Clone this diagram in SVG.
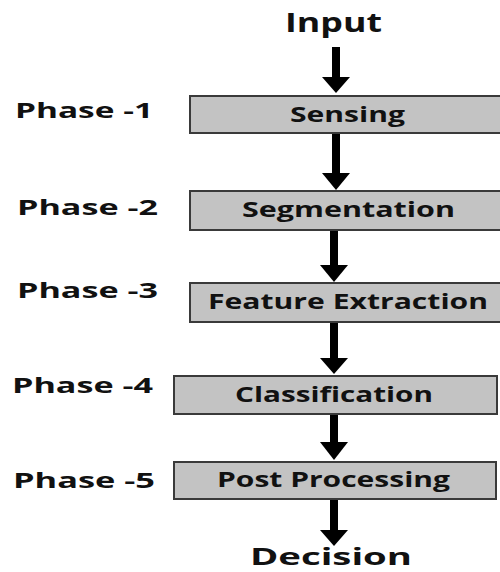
<svg xmlns="http://www.w3.org/2000/svg" width="500" height="572" viewBox="0 0 500 572">
<defs>
<style>
.box{fill:#c3c3c3;stroke:#3a3a3a;stroke-width:2}
.t{font-family:"Open Sans","Liberation Sans",sans-serif;font-weight:bold;fill:#111}
.bt{font-size:21px}
.ph{font-size:22px}
.io{font-size:26px}
.sh{stroke:#000;stroke-width:8}
.hd{fill:#000}
</style>
</defs>
<rect width="500" height="572" fill="#fff"/>
<g id="input"><text class="t io" x="285" y="32" textLength="97" lengthAdjust="spacingAndGlyphs">Input</text></g>
<g id="phase1"><text class="t ph" x="15" y="118" textLength="138" lengthAdjust="spacingAndGlyphs">Phase -1</text></g>
<g id="phase2"><text class="t ph" x="17" y="215" textLength="141" lengthAdjust="spacingAndGlyphs">Phase -2</text></g>
<g id="phase3"><text class="t ph" x="17" y="298" textLength="141" lengthAdjust="spacingAndGlyphs">Phase -3</text></g>
<g id="phase4"><text class="t ph" x="12" y="393" textLength="141" lengthAdjust="spacingAndGlyphs">Phase -4</text></g>
<g id="phase5"><text class="t ph" x="13" y="488" textLength="142" lengthAdjust="spacingAndGlyphs">Phase -5</text></g>
<g id="sensing"><rect class="box" x="190" y="96" width="315" height="37"/><text class="t bt" x="290" y="122" textLength="115" lengthAdjust="spacingAndGlyphs">Sensing</text></g>
<g id="segmentation"><rect class="box" x="190" y="191" width="315" height="39"/><text class="t bt" x="242" y="217" textLength="213" lengthAdjust="spacingAndGlyphs">Segmentation</text></g>
<g id="feature"><rect class="box" x="190" y="283" width="315" height="39"/><text class="t bt" x="208" y="309" textLength="280" lengthAdjust="spacingAndGlyphs">Feature Extraction</text></g>
<g id="classification"><rect class="box" x="174" y="376" width="323" height="38"/><text class="t bt" x="235" y="402" textLength="198" lengthAdjust="spacingAndGlyphs">Classification</text></g>
<g id="post"><rect class="box" x="174" y="462" width="322" height="37"/><text class="t bt" x="217" y="487" textLength="233" lengthAdjust="spacingAndGlyphs">Post Processing</text></g>
<g id="decision"><text class="t" style="font-size:24px" x="250" y="565" textLength="162" lengthAdjust="spacingAndGlyphs">Decision</text></g>
<g id="connectors">
<line class="sh" x1="336" y1="47" x2="336" y2="78"/><polygon class="hd" points="322,77 350,77 336,93"/>
<line class="sh" x1="336" y1="134" x2="336" y2="174"/><polygon class="hd" points="322,173 350,173 336,190"/>
<line class="sh" x1="334" y1="231" x2="334" y2="266"/><polygon class="hd" points="320,265 348,265 334,282"/>
<line class="sh" x1="334" y1="323" x2="334" y2="359"/><polygon class="hd" points="320,358 348,358 334,374"/>
<line class="sh" x1="334" y1="415" x2="334" y2="443"/><polygon class="hd" points="320,442 348,442 334,460"/>
<line class="sh" x1="334" y1="500" x2="334" y2="531"/><polygon class="hd" points="320,530 348,530 334,546"/>
</g>
</svg>
